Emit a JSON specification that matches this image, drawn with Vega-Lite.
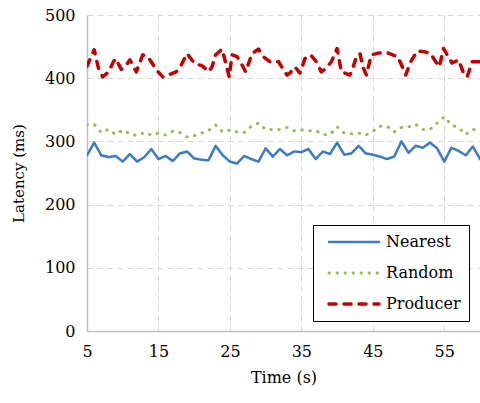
{
  "$schema": "https://vega.github.io/schema/vega-lite/v6.json",
  "width": 393,
  "height": 316,
  "autosize": "none",
  "padding": {"left": 87, "top": 15, "right": 0, "bottom": 72},
  "background": "white",
  "config": {
    "view": {"stroke": null},
    "font": "DejaVu Serif",
    "axis": {
      "domainColor": "#bfbfbf",
      "domainWidth": 1.5,
      "ticks": false,
      "grid": true,
      "gridColor": "#d9d9d9",
      "gridDash": [6, 4],
      "gridWidth": 1,
      "labelFont": "DejaVu Serif",
      "labelFontSize": 16,
      "labelColor": "#000000",
      "labelPadding": 12,
      "labelFlush": false,
      "titleFont": "DejaVu Serif",
      "titleFontSize": 16,
      "titleFontWeight": "normal",
      "titleColor": "#000000"
    }
  },
  "data": {
    "values": [
      {"series": "Nearest", "t": 5, "v": 278}, {"series": "Nearest", "t": 6, "v": 298}, {"series": "Nearest", "t": 7, "v": 278}, {"series": "Nearest", "t": 8, "v": 275}, {"series": "Nearest", "t": 9, "v": 277}, {"series": "Nearest", "t": 10, "v": 268}, {"series": "Nearest", "t": 11, "v": 280}, {"series": "Nearest", "t": 12, "v": 268}, {"series": "Nearest", "t": 13, "v": 275}, {"series": "Nearest", "t": 14, "v": 288}, {"series": "Nearest", "t": 15, "v": 272}, {"series": "Nearest", "t": 16, "v": 277}, {"series": "Nearest", "t": 17, "v": 269}, {"series": "Nearest", "t": 18, "v": 281}, {"series": "Nearest", "t": 19, "v": 284}, {"series": "Nearest", "t": 20, "v": 273}, {"series": "Nearest", "t": 21, "v": 271}, {"series": "Nearest", "t": 22, "v": 270}, {"series": "Nearest", "t": 23, "v": 293}, {"series": "Nearest", "t": 24, "v": 278}, {"series": "Nearest", "t": 25, "v": 268}, {"series": "Nearest", "t": 26, "v": 265}, {"series": "Nearest", "t": 27, "v": 277}, {"series": "Nearest", "t": 28, "v": 272}, {"series": "Nearest", "t": 29, "v": 268}, {"series": "Nearest", "t": 30, "v": 289}, {"series": "Nearest", "t": 31, "v": 276}, {"series": "Nearest", "t": 32, "v": 288}, {"series": "Nearest", "t": 33, "v": 278}, {"series": "Nearest", "t": 34, "v": 284}, {"series": "Nearest", "t": 35, "v": 283}, {"series": "Nearest", "t": 36, "v": 288}, {"series": "Nearest", "t": 37, "v": 272}, {"series": "Nearest", "t": 38, "v": 284}, {"series": "Nearest", "t": 39, "v": 280}, {"series": "Nearest", "t": 40, "v": 298}, {"series": "Nearest", "t": 41, "v": 279}, {"series": "Nearest", "t": 42, "v": 281}, {"series": "Nearest", "t": 43, "v": 293}, {"series": "Nearest", "t": 44, "v": 281}, {"series": "Nearest", "t": 45, "v": 279}, {"series": "Nearest", "t": 46, "v": 276}, {"series": "Nearest", "t": 47, "v": 272}, {"series": "Nearest", "t": 48, "v": 276}, {"series": "Nearest", "t": 49, "v": 300}, {"series": "Nearest", "t": 50, "v": 282}, {"series": "Nearest", "t": 51, "v": 293}, {"series": "Nearest", "t": 52, "v": 290}, {"series": "Nearest", "t": 53, "v": 298}, {"series": "Nearest", "t": 54, "v": 289}, {"series": "Nearest", "t": 55, "v": 268}, {"series": "Nearest", "t": 56, "v": 290}, {"series": "Nearest", "t": 57, "v": 285}, {"series": "Nearest", "t": 58, "v": 278}, {"series": "Nearest", "t": 59, "v": 292}, {"series": "Nearest", "t": 60, "v": 272},
      {"series": "Random", "t": 5, "v": 326}, {"series": "Random", "t": 6, "v": 327}, {"series": "Random", "t": 7, "v": 314}, {"series": "Random", "t": 8, "v": 319}, {"series": "Random", "t": 9, "v": 311}, {"series": "Random", "t": 10, "v": 318}, {"series": "Random", "t": 11, "v": 312}, {"series": "Random", "t": 12, "v": 309}, {"series": "Random", "t": 13, "v": 314}, {"series": "Random", "t": 14, "v": 310}, {"series": "Random", "t": 15, "v": 313}, {"series": "Random", "t": 16, "v": 310}, {"series": "Random", "t": 17, "v": 316}, {"series": "Random", "t": 18, "v": 314}, {"series": "Random", "t": 19, "v": 307}, {"series": "Random", "t": 20, "v": 309}, {"series": "Random", "t": 21, "v": 313}, {"series": "Random", "t": 22, "v": 317}, {"series": "Random", "t": 23, "v": 326}, {"series": "Random", "t": 24, "v": 315}, {"series": "Random", "t": 25, "v": 318}, {"series": "Random", "t": 26, "v": 315}, {"series": "Random", "t": 27, "v": 314}, {"series": "Random", "t": 28, "v": 324}, {"series": "Random", "t": 29, "v": 329}, {"series": "Random", "t": 30, "v": 319}, {"series": "Random", "t": 31, "v": 319}, {"series": "Random", "t": 32, "v": 319}, {"series": "Random", "t": 33, "v": 322}, {"series": "Random", "t": 34, "v": 317}, {"series": "Random", "t": 35, "v": 318}, {"series": "Random", "t": 36, "v": 317}, {"series": "Random", "t": 37, "v": 317}, {"series": "Random", "t": 38, "v": 311}, {"series": "Random", "t": 39, "v": 311}, {"series": "Random", "t": 40, "v": 323}, {"series": "Random", "t": 41, "v": 313}, {"series": "Random", "t": 42, "v": 312}, {"series": "Random", "t": 43, "v": 313}, {"series": "Random", "t": 44, "v": 310}, {"series": "Random", "t": 45, "v": 316}, {"series": "Random", "t": 46, "v": 324}, {"series": "Random", "t": 47, "v": 324}, {"series": "Random", "t": 48, "v": 315}, {"series": "Random", "t": 49, "v": 322}, {"series": "Random", "t": 50, "v": 323}, {"series": "Random", "t": 51, "v": 327}, {"series": "Random", "t": 52, "v": 319}, {"series": "Random", "t": 53, "v": 319}, {"series": "Random", "t": 54, "v": 329}, {"series": "Random", "t": 55, "v": 339}, {"series": "Random", "t": 56, "v": 326}, {"series": "Random", "t": 57, "v": 322}, {"series": "Random", "t": 58, "v": 311}, {"series": "Random", "t": 59, "v": 319}, {"series": "Random", "t": 60, "v": 317},
      {"series": "Producer", "t": 5, "v": 419}, {"series": "Producer", "t": 6, "v": 445}, {"series": "Producer", "t": 6.6, "v": 416}, {"series": "Producer", "t": 7.2, "v": 402}, {"series": "Producer", "t": 8, "v": 410}, {"series": "Producer", "t": 8.7, "v": 426}, {"series": "Producer", "t": 9, "v": 431}, {"series": "Producer", "t": 9.8, "v": 414}, {"series": "Producer", "t": 10.5, "v": 421}, {"series": "Producer", "t": 11, "v": 429}, {"series": "Producer", "t": 11.9, "v": 410}, {"series": "Producer", "t": 12.8, "v": 437}, {"series": "Producer", "t": 13.5, "v": 434}, {"series": "Producer", "t": 14.1, "v": 424}, {"series": "Producer", "t": 14.7, "v": 413}, {"series": "Producer", "t": 15.6, "v": 402}, {"series": "Producer", "t": 16.3, "v": 405}, {"series": "Producer", "t": 17.5, "v": 410}, {"series": "Producer", "t": 18.2, "v": 421}, {"series": "Producer", "t": 19, "v": 439}, {"series": "Producer", "t": 20, "v": 424}, {"series": "Producer", "t": 21.2, "v": 419}, {"series": "Producer", "t": 22, "v": 410}, {"series": "Producer", "t": 22.5, "v": 418}, {"series": "Producer", "t": 23, "v": 437}, {"series": "Producer", "t": 23.9, "v": 446}, {"series": "Producer", "t": 24.3, "v": 429}, {"series": "Producer", "t": 24.9, "v": 402}, {"series": "Producer", "t": 25.3, "v": 437}, {"series": "Producer", "t": 26, "v": 434}, {"series": "Producer", "t": 26.7, "v": 421}, {"series": "Producer", "t": 27.2, "v": 410}, {"series": "Producer", "t": 28.1, "v": 439}, {"series": "Producer", "t": 29, "v": 446}, {"series": "Producer", "t": 29.7, "v": 434}, {"series": "Producer", "t": 30.6, "v": 426}, {"series": "Producer", "t": 31.8, "v": 426}, {"series": "Producer", "t": 33, "v": 405}, {"series": "Producer", "t": 33.4, "v": 408}, {"series": "Producer", "t": 34.1, "v": 418}, {"series": "Producer", "t": 34.8, "v": 408}, {"series": "Producer", "t": 35.5, "v": 431}, {"series": "Producer", "t": 36.3, "v": 437}, {"series": "Producer", "t": 37.1, "v": 426}, {"series": "Producer", "t": 37.8, "v": 410}, {"series": "Producer", "t": 38.5, "v": 416}, {"series": "Producer", "t": 39.2, "v": 426}, {"series": "Producer", "t": 40, "v": 447}, {"series": "Producer", "t": 40.6, "v": 410}, {"series": "Producer", "t": 41.8, "v": 405}, {"series": "Producer", "t": 42.2, "v": 416}, {"series": "Producer", "t": 42.7, "v": 434}, {"series": "Producer", "t": 43.2, "v": 439}, {"series": "Producer", "t": 43.6, "v": 418}, {"series": "Producer", "t": 44.1, "v": 405}, {"series": "Producer", "t": 44.8, "v": 437}, {"series": "Producer", "t": 45.9, "v": 440}, {"series": "Producer", "t": 47.1, "v": 440}, {"series": "Producer", "t": 48.5, "v": 434}, {"series": "Producer", "t": 48.9, "v": 424}, {"series": "Producer", "t": 49.6, "v": 405}, {"series": "Producer", "t": 50.3, "v": 426}, {"series": "Producer", "t": 51.2, "v": 443}, {"series": "Producer", "t": 52.2, "v": 442}, {"series": "Producer", "t": 53.1, "v": 439}, {"series": "Producer", "t": 53.8, "v": 426}, {"series": "Producer", "t": 54.3, "v": 418}, {"series": "Producer", "t": 54.9, "v": 447}, {"series": "Producer", "t": 55.4, "v": 437}, {"series": "Producer", "t": 56.1, "v": 424}, {"series": "Producer", "t": 57, "v": 429}, {"series": "Producer", "t": 57.7, "v": 408}, {"series": "Producer", "t": 58.2, "v": 402}, {"series": "Producer", "t": 58.9, "v": 426}, {"series": "Producer", "t": 59.5, "v": 426}, {"series": "Producer", "t": 60, "v": 426}
    ]
  },
  "mark": {"type": "line", "strokeCap": "round", "strokeJoin": "round", "clip": true},
  "encoding": {
    "x": {
      "field": "t", "type": "quantitative",
      "scale": {"domain": [5, 60], "nice": false, "zero": false},
      "axis": {"values": [5, 15, 25, 35, 45, 55], "title": "Time (s)", "titlePadding": 10}
    },
    "y": {
      "field": "v", "type": "quantitative",
      "scale": {"domain": [0, 500], "nice": false},
      "axis": {"values": [0, 100, 200, 300, 400, 500], "title": "Latency (ms)", "titleFontSize": 15, "titlePadding": 18}
    },
    "color": {
      "field": "series", "type": "nominal",
      "scale": {"domain": ["Nearest", "Random", "Producer"], "range": ["#3b7bc4", "#9bbb59", "#c00000"]},
      "legend": {"title": null, "orient": "none", "legendX": 226, "legendY": 210, "symbolType": "stroke", "symbolSize": 2500, "symbolStrokeWidth": 3.5, "clipHeight": 18, "rowPadding": 13, "padding": 8, "labelFontSize": 16, "labelFont": "DejaVu Serif", "labelColor": "#000000", "labelOffset": 5, "strokeColor": "#000000", "fillColor": "#ffffff", "symbolOffset": 6, "encode": {"symbols": {"update": {"strokeCap": {"value": "round"}}}}}
    },
    "strokeDash": {
      "field": "series", "type": "nominal",
      "scale": {"domain": ["Nearest", "Random", "Producer"], "range": [[1, 0], [0.5, 7.5], [7, 8]]},
      "legend": {"title": null, "orient": "none", "legendX": 226, "legendY": 210, "symbolType": "stroke", "symbolSize": 2500, "symbolStrokeWidth": 3.5, "clipHeight": 18, "rowPadding": 13, "padding": 8, "labelFontSize": 16, "labelFont": "DejaVu Serif", "labelColor": "#000000", "labelOffset": 5, "strokeColor": "#000000", "fillColor": "#ffffff", "symbolOffset": 6, "encode": {"symbols": {"update": {"strokeCap": {"value": "round"}}}}}
    },
    "strokeWidth": {
      "field": "series", "type": "nominal",
      "scale": {"domain": ["Nearest", "Random", "Producer"], "range": [2.5, 3.5, 4]},
      "legend": null
    }
  }
}
